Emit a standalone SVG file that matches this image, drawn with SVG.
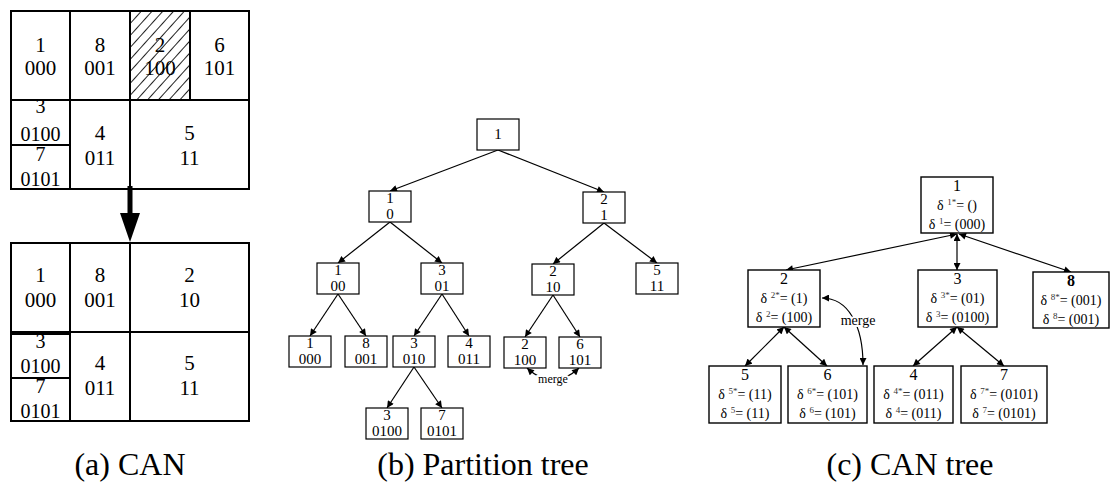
<svg xmlns="http://www.w3.org/2000/svg" width="1112" height="484" viewBox="0 0 1112 484">
  <defs>
    <style>
      text { font-family: "Liberation Serif", "Times New Roman", serif; fill: #000; text-anchor: middle; }
      .grid { fill: none; stroke: #000; stroke-width: 2; }
      .cell { font-size: 21px; }
      .small { font-size: 20px; }
      .pbox { fill: #fff; stroke: #000; stroke-width: 1.2; }
      .pt { font-size: 15px; }
      .cbox { fill: #fff; stroke: #000; stroke-width: 1.4; }
      .cn { font-size: 16px; }
      .cd { font-size: 14px; }
      .sup { font-size: 9px; fill: #333; }
      .edge { fill: none; stroke: #000; stroke-width: 1.2; marker-end: url(#ah); }
      .dedge { fill: none; stroke: #000; stroke-width: 1.2; marker-start: url(#ah); marker-end: url(#ah); }
      .halo { stroke: #fff; stroke-width: 4; paint-order: stroke; }
      .cap { font-size: 32px; }
    </style>
    <marker id="ah" viewBox="0 0 10 10" refX="10" refY="5" markerWidth="8" markerHeight="7" markerUnits="userSpaceOnUse" orient="auto-start-reverse">
      <path d="M0,0 L10,5 L0,10 z" fill="#000"/>
    </marker>
    <pattern id="hatch" patternUnits="userSpaceOnUse" width="8" height="8" patternTransform="rotate(42)">
      <line x1="0" y1="0" x2="0" y2="8" stroke="#222" stroke-width="2"/>
    </pattern>
  </defs>

  <!-- (a) CAN zones before the merge -->
  <g id="can-before">
    <rect x="130" y="11" width="60" height="89" fill="url(#hatch)"/>
    <rect class="grid" x="11" y="11" width="238" height="178"/>
    <line class="grid" x1="11" y1="100" x2="249" y2="100"/>
    <line class="grid" x1="70" y1="11" x2="70" y2="189"/>
    <line class="grid" x1="130" y1="11" x2="130" y2="189"/>
    <line class="grid" x1="190" y1="11" x2="190" y2="100"/>
    <line class="grid" x1="11" y1="145" x2="70" y2="145"/>
    <text class="cell" x="40.5" y="52">1</text><text class="cell" x="40.5" y="75">000</text>
    <text class="cell" x="100" y="52">8</text><text class="cell" x="100" y="75">001</text>
    <text class="cell" x="160" y="52">2</text><text class="cell" x="160" y="75">100</text>
    <text class="cell" x="219.5" y="52">6</text><text class="cell" x="219.5" y="75">101</text>
    <text class="small" x="40.5" y="113">3</text><text class="small" x="40.5" y="141">0100</text>
    <text class="small" x="40.5" y="161">7</text><text class="small" x="40.5" y="186">0101</text>
    <text class="cell" x="100" y="140">4</text><text class="cell" x="100" y="165">011</text>
    <text class="cell" x="189.5" y="140">5</text><text class="cell" x="189.5" y="165">11</text>
  </g>

  <!-- transition arrow -->
  <g id="can-arrow">
    <rect x="127.5" y="186" width="5" height="29" fill="#000"/>
    <polygon points="120,213 140,213 130,242" fill="#000"/>
  </g>

  <!-- (a) CAN zones after the merge -->
  <g id="can-after">
    <rect class="grid" x="11" y="243" width="238" height="178"/>
    <line class="grid" x1="11" y1="332" x2="249" y2="332"/>
    <line x1="11" y1="334" x2="70" y2="334" stroke="#000" stroke-width="2"/>
    <line class="grid" x1="70" y1="243" x2="70" y2="421"/>
    <line class="grid" x1="130" y1="243" x2="130" y2="421"/>
    <line class="grid" x1="11" y1="378" x2="70" y2="378"/>
    <text class="cell" x="40.5" y="282">1</text><text class="cell" x="40.5" y="307">000</text>
    <text class="cell" x="100" y="282">8</text><text class="cell" x="100" y="307">001</text>
    <text class="cell" x="189.5" y="282">2</text><text class="cell" x="189.5" y="307">10</text>
    <text class="small" x="40.5" y="348">3</text><text class="small" x="40.5" y="373">0100</text>
    <text class="small" x="40.5" y="393">7</text><text class="small" x="40.5" y="418">0101</text>
    <text class="cell" x="100" y="370">4</text><text class="cell" x="100" y="395">011</text>
    <text class="cell" x="189.5" y="370">5</text><text class="cell" x="189.5" y="395">11</text>
  </g>

  <!-- (b) partition tree connectors -->
  <g id="ptree-edges">
    <path class="edge" d="M498,150 L390,191"/>
    <path class="edge" d="M498,150 L604,192"/>
    <path class="edge" d="M390,222 L338,263"/>
    <path class="edge" d="M390,222 L442,263"/>
    <path class="edge" d="M604,223 L553,264"/>
    <path class="edge" d="M604,223 L657,263"/>
    <path class="edge" d="M338,294 L310,336"/>
    <path class="edge" d="M338,294 L366,336"/>
    <path class="edge" d="M442,294 L414,336"/>
    <path class="edge" d="M442,294 L469,336"/>
    <path class="edge" d="M553,295 L525,337"/>
    <path class="edge" d="M553,295 L580,337"/>
    <path class="edge" d="M414,367 L387,408"/>
    <path class="edge" d="M414,367 L442,408"/>
    <path class="dedge" d="M527,368 Q553,392 579,368"/>
    <text class="halo" x="553" y="383" font-size="12">merge</text>
  </g>

  <!-- (b) partition tree nodes -->
  <g id="p-root"><rect class="pbox" x="477" y="119" width="42" height="31"/><text class="pt" x="498" y="139">1</text></g>
  <g id="p-0"><rect class="pbox" x="369" y="191" width="42" height="31"/><text class="pt" x="390" y="203">1</text><text class="pt" x="390" y="219">0</text></g>
  <g id="p-1"><rect class="pbox" x="583" y="192" width="42" height="31"/><text class="pt" x="604" y="204">2</text><text class="pt" x="604" y="220">1</text></g>
  <g id="p-00"><rect class="pbox" x="317" y="263" width="42" height="31"/><text class="pt" x="338" y="275">1</text><text class="pt" x="338" y="291">00</text></g>
  <g id="p-01"><rect class="pbox" x="421" y="263" width="42" height="31"/><text class="pt" x="442" y="275">3</text><text class="pt" x="442" y="291">01</text></g>
  <g id="p-10"><rect class="pbox" x="532" y="264" width="42" height="31"/><text class="pt" x="553" y="276">2</text><text class="pt" x="553" y="292">10</text></g>
  <g id="p-11"><rect class="pbox" x="636" y="263" width="42" height="31"/><text class="pt" x="657" y="275">5</text><text class="pt" x="657" y="291">11</text></g>
  <g id="p-000"><rect class="pbox" x="289" y="336" width="42" height="31"/><text class="pt" x="310" y="348">1</text><text class="pt" x="310" y="364">000</text></g>
  <g id="p-001"><rect class="pbox" x="345" y="336" width="42" height="31"/><text class="pt" x="366" y="348">8</text><text class="pt" x="366" y="364">001</text></g>
  <g id="p-010"><rect class="pbox" x="393" y="336" width="42" height="31"/><text class="pt" x="414" y="348">3</text><text class="pt" x="414" y="364">010</text></g>
  <g id="p-011"><rect class="pbox" x="448" y="336" width="42" height="31"/><text class="pt" x="469" y="348">4</text><text class="pt" x="469" y="364">011</text></g>
  <g id="p-100"><rect class="pbox" x="504" y="337" width="42" height="31"/><text class="pt" x="525" y="349">2</text><text class="pt" x="525" y="365">100</text></g>
  <g id="p-101"><rect class="pbox" x="559" y="337" width="42" height="31"/><text class="pt" x="580" y="349">6</text><text class="pt" x="580" y="365">101</text></g>
  <g id="p-0100"><rect class="pbox" x="366" y="408" width="42" height="31"/><text class="pt" x="387" y="420">3</text><text class="pt" x="387" y="436">0100</text></g>
  <g id="p-0101"><rect class="pbox" x="421" y="408" width="42" height="31"/><text class="pt" x="442" y="420">7</text><text class="pt" x="442" y="436">0101</text></g>

  <!-- (c) CAN tree connectors -->
  <g id="ctree-edges">
    <path class="dedge" d="M957,234 L786,270"/>
    <path class="dedge" d="M957,234 L957,270"/>
    <path class="dedge" d="M959,234 L1071,272"/>
    <path class="dedge" d="M784,327 L745,366"/>
    <path class="dedge" d="M784,327 L827,366"/>
    <path class="dedge" d="M957,327 L913,366"/>
    <path class="dedge" d="M957,327 L1004,366"/>
    <path class="dedge" d="M822,298 C848,298 863,325 863,365"/>
    <text class="halo" x="858" y="325" font-size="14">merge</text>
  </g>

  <!-- (c) CAN tree nodes -->
  <g id="c-1"><rect class="cbox" x="921" y="177" width="72" height="56"/>
    <text class="cn" x="957" y="191">1</text>
    <text class="cd" x="957" y="210">δ <tspan class="sup" dy="-5">1*</tspan><tspan dy="5">= ()</tspan></text>
    <text class="cd" x="957" y="229">δ <tspan class="sup" dy="-5">1</tspan><tspan dy="5">= (000)</tspan></text></g>
  <g id="c-2"><rect class="cbox" x="748" y="270" width="72" height="57"/>
    <text class="cn" x="784" y="284">2</text>
    <text class="cd" x="784" y="303">δ <tspan class="sup" dy="-5">2*</tspan><tspan dy="5">= (1)</tspan></text>
    <text class="cd" x="784" y="322">δ <tspan class="sup" dy="-5">2</tspan><tspan dy="5">= (100)</tspan></text></g>
  <g id="c-3"><rect class="cbox" x="918" y="270" width="79" height="57"/>
    <text class="cn" x="957.5" y="284">3</text>
    <text class="cd" x="957.5" y="303">δ <tspan class="sup" dy="-5">3*</tspan><tspan dy="5">= (01)</tspan></text>
    <text class="cd" x="957.5" y="322">δ <tspan class="sup" dy="-5">3</tspan><tspan dy="5">= (0100)</tspan></text></g>
  <g id="c-8"><rect class="cbox" x="1033" y="272" width="76" height="56"/>
    <text class="cn" x="1071" y="286" font-weight="bold">8</text>
    <text class="cd" x="1071" y="305">δ <tspan class="sup" dy="-5">8*</tspan><tspan dy="5">= (001)</tspan></text>
    <text class="cd" x="1071" y="324">δ <tspan class="sup" dy="-5">8</tspan><tspan dy="5">= (001)</tspan></text></g>
  <g id="c-5"><rect class="cbox" x="709" y="366" width="72" height="57"/>
    <text class="cn" x="745" y="380">5</text>
    <text class="cd" x="745" y="399">δ <tspan class="sup" dy="-5">5*</tspan><tspan dy="5">= (11)</tspan></text>
    <text class="cd" x="745" y="418">δ <tspan class="sup" dy="-5">5</tspan><tspan dy="5">= (11)</tspan></text></g>
  <g id="c-6"><rect class="cbox" x="788" y="366" width="79" height="57"/>
    <text class="cn" x="827.5" y="380">6</text>
    <text class="cd" x="827.5" y="399">δ <tspan class="sup" dy="-5">6*</tspan><tspan dy="5">= (101)</tspan></text>
    <text class="cd" x="827.5" y="418">δ <tspan class="sup" dy="-5">6</tspan><tspan dy="5">= (101)</tspan></text></g>
  <g id="c-4"><rect class="cbox" x="874" y="366" width="79" height="57"/>
    <text class="cn" x="913.5" y="380">4</text>
    <text class="cd" x="913.5" y="399">δ <tspan class="sup" dy="-5">4*</tspan><tspan dy="5">= (011)</tspan></text>
    <text class="cd" x="913.5" y="418">δ <tspan class="sup" dy="-5">4</tspan><tspan dy="5">= (011)</tspan></text></g>
  <g id="c-7"><rect class="cbox" x="961" y="366" width="86" height="57"/>
    <text class="cn" x="1004" y="380">7</text>
    <text class="cd" x="1004" y="399">δ <tspan class="sup" dy="-5">7*</tspan><tspan dy="5">= (0101)</tspan></text>
    <text class="cd" x="1004" y="418">δ <tspan class="sup" dy="-5">7</tspan><tspan dy="5">= (0101)</tspan></text></g>

  <!-- captions -->
  <g id="captions">
    <text class="cap" x="130" y="475">(a) CAN</text>
    <text class="cap" x="483" y="475">(b) Partition tree</text>
    <text class="cap" x="910" y="475">(c) CAN tree</text>
  </g>
</svg>
